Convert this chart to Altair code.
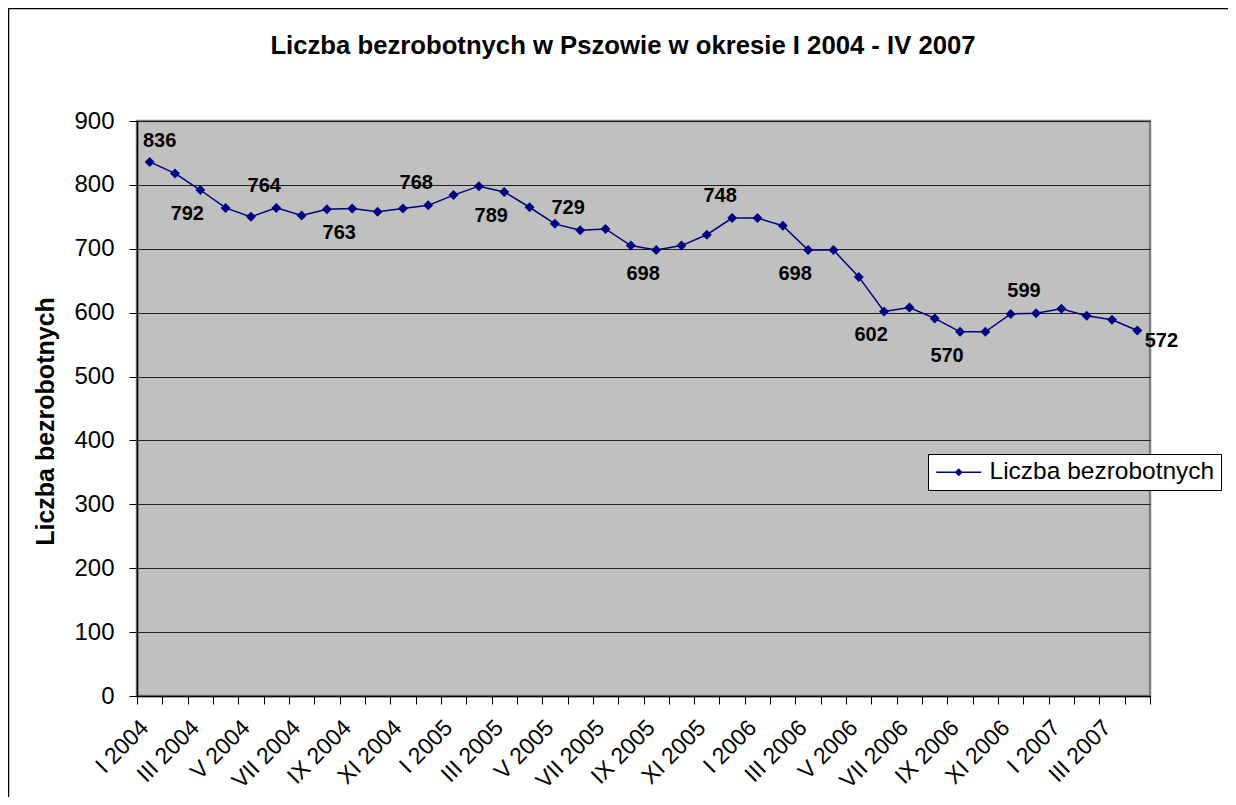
import altair as alt
import pandas as pd

# ---------------- data ----------------
roman = ["I", "II", "III", "IV", "V", "VI", "VII", "VIII", "IX", "X", "XI", "XII"]
years = [2004, 2005, 2006]
months = [f"{r} {y}" for y in years for r in roman] + [f"{r} 2007" for r in roman[:4]]

values = [836, 818, 792, 764, 750, 764, 752, 762, 763, 758, 763, 768,
          784, 798, 789, 765, 739, 729, 731, 705, 698, 705, 722, 748,
          748, 736, 698, 698, 656, 602, 608, 591, 570, 570, 598, 599,
          606, 595, 589, 572]

series_name = "Liczba bezrobotnych"
chart_title = "Liczba bezrobotnych w Pszowie w okresie I 2004 - IV 2007"
y_title = "Liczba bezrobotnych"
y_ticks = [0, 100, 200, 300, 400, 500, 600, 700, 800, 900]

# months whose value is printed, and where the printed value sits (style)
label_place = {
    "I 2004": "first", "III 2004": "below", "VI 2004": "above", "IX 2004": "below",
    "XII 2004": "above", "III 2005": "below", "VI 2005": "above", "IX 2005": "below",
    "XII 2005": "above", "III 2006": "below", "VI 2006": "below", "IX 2006": "below",
    "XII 2006": "above", "IV 2007": "last",
}

df = pd.DataFrame({"month": months, "value": values})
df["series"] = series_name
df["place"] = df["month"].map(label_place).fillna("")

one = pd.DataFrame({"k": [0]})

FONT = "Liberation Sans"
NAVY = "#000080"

x_enc = alt.X(
    "month:N",
    sort=months,
    scale=alt.Scale(domain=months, paddingInner=0, paddingOuter=0),
    axis=alt.Axis(
        title=None,
        labelExpr="test(/^(I|III|V|VII|IX|XI) /, datum.value) ? datum.value : ''",
        labelAngle=-45,
        labelAlign="right",
        labelBaseline="top",
        labelFontSize=23,
        labelFont=FONT,
        labelColor="black",
        labelOverlap=False,
        labelPadding=12,
        labelOffset=-13,
        tickBand="extent",
        tickSize=8,
        tickColor="black",
        domainColor="black",
        domainWidth=1.5,
        grid=False,
    ),
)
y_enc = alt.Y(
    "value:Q",
    scale=alt.Scale(domain=[0, 900], nice=False, zero=True),
    axis=alt.Axis(
        values=y_ticks,
        title=y_title,
        titleFont=FONT,
        titleFontSize=25,
        titleFontWeight="bold",
        titleColor="black",
        titleAngle=270,
        titleX=-92,
        titleY=300,
        titleAlign="center",
        titleBaseline="middle",
        labelFontSize=24,
        labelFont=FONT,
        labelColor="black",
        labelPadding=15,
        tickSize=8,
        tickColor="black",
        domainColor="black",
        domainWidth=1.5,
        grid=True,
        gridColor="#222222",
        gridWidth=1,
    ),
)

base = alt.Chart(df)

line = base.mark_line(color=NAVY, strokeWidth=1.5).encode(x=x_enc, y=y_enc)

points = base.mark_point(shape="diamond", filled=True, size=100, opacity=1).encode(
    x=x_enc,
    y=y_enc,
    color=alt.Color(
        "series:N",
        scale=alt.Scale(range=[NAVY]),
        legend=alt.Legend(
            title=None,
            orient="none",
            legendX=791,
            legendY=333,
            fillColor="white",
            strokeColor="black",
            padding=6,
            labelFont=FONT,
            labelFontSize=24.5,
            labelColor="black",
            labelLimit=400,
            labelOffset=31,
            symbolType="M-1,-0.075H3.5V0.075H-1ZM1.25,-0.4L1.65,0L1.25,0.4L0.85,0Z",
            symbolSize=400,
            symbolFillColor=NAVY,
            symbolStrokeWidth=0,
            symbolOpacity=1,
        ),
    ),
)

label_styles = {
    "above": dict(dx=-12, dy=-22),
    "below": dict(dx=-13, dy=24),
    "first": dict(dx=10, dy=-21),
    "last": dict(dx=24, dy=10),
}
text_layers = []
for place, off in label_styles.items():
    text_layers.append(
        base.transform_filter(alt.datum.place == place)
        .mark_text(font=FONT, fontSize=20, fontWeight="bold", color="black",
                   align="center", baseline="middle", **off)
        .encode(x=x_enc, y=y_enc, text=alt.Text("value:Q"))
    )

title_mark = alt.Chart(one).mark_text(
    text=chart_title, font=FONT, fontSize=25.7, fontWeight="bold", color="black",
    align="center", baseline="middle",
).encode(x=alt.value(486), y=alt.value(-75))

# outer chart-area frame: only its top and left edges fall inside the picture
frame_top = alt.Chart(one).mark_rule(color="black", strokeWidth=2.5).encode(
    x=alt.value(-130), x2=alt.value(1120), y=alt.value(-113)
)
frame_left = alt.Chart(one).mark_rule(color="black", strokeWidth=2.5).encode(
    x=alt.value(-129), y=alt.value(-114), y2=alt.value(700)
)

chart = alt.layer(frame_top, frame_left, line, points, *text_layers, title_mark).properties(
    width=1013,
    height=575,
    autosize=alt.AutoSizeParams(type="none"),
    padding={"left": 129, "top": 113, "right": 78, "bottom": 101},
    background="white",
).configure_view(
    fill="#C0C0C0", stroke="#808080", strokeWidth=2.5
)

chart.save("out.html", embed_options={"renderer": "svg", "actions": False})
